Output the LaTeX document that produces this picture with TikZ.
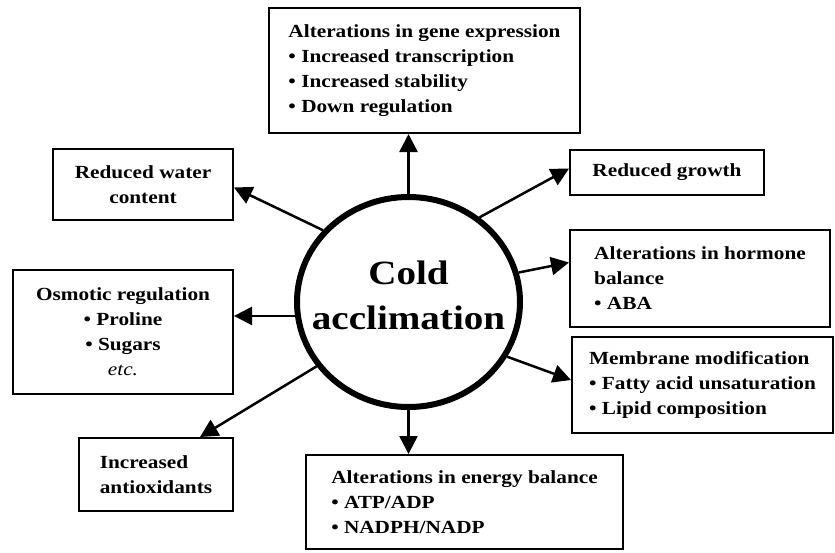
\documentclass[tikz,border=0pt]{standalone}
\usepackage{fontspec}
\setmainfont{Liberation Serif}[FakeStretch=1.15]
\usetikzlibrary{shapes.geometric,arrows.meta}

\begin{document}
\begin{tikzpicture}[x=1pt,y=-1pt,
    box/.style={draw, rectangle, line width=2pt, inner sep=0pt, align=left,
        font=\fontsize{18.5}{25}\selectfont\bfseries},
    arr/.style={line width=2.5pt, -{Triangle[length=18pt,width=18pt]}}]
    \useasboundingbox (0,0) rectangle (835,552);

    % Nodes
    \node [draw, ellipse, line width=6pt, minimum width=223pt, minimum height=210pt,
        inner xsep=-20pt, inner ysep=0pt, align=center, font=\fontsize{34}{45}\selectfont\bfseries]
        (cold) at (408.5,302) {Cold\\acclimation\strut};
    \node [box, minimum width=311pt, minimum height=125pt] (gene) at (424.5,70.5)
        {Alterations in gene expression\\\textbullet\ Increased transcription\\\textbullet\ Increased stability\\\textbullet\ Down regulation};
    \node [box, align=center, minimum width=180pt, minimum height=71pt] (water) at (143,184.5)
        {Reduced water\\content};
    \node [box, minimum width=194pt, minimum height=45pt] (growth) at (667,172.5)
        {Reduced growth};
    \node [box, minimum width=260pt, minimum height=97pt] (hormone) at (700,278.5)
        {Alterations in hormone\\balance\\\textbullet\ ABA};
    \node [box, align=center, minimum width=220pt, minimum height=124pt] (osmotic) at (123,332)
        {Osmotic regulation\\\textbullet\ Proline\\\textbullet\ Sugars\\\textmd{\textit{etc.}}};
    \node [box, minimum width=261pt, minimum height=96pt] (membrane) at (702.5,385)
        {Membrane modification\\\textbullet\ Fatty acid unsaturation\\\textbullet\ Lipid composition};
    \node [box, minimum width=154pt, minimum height=73pt] (antiox) at (156,474.5)
        {Increased\\antioxidants};
    \node [box, minimum width=317pt, minimum height=94pt] (energy) at (464.5,502)
        {Alterations in energy balance\\\textbullet\ ATP/ADP\\\textbullet\ NADPH/NADP};

    % Arrows
    \draw [arr] (cold.north) -- (cold.north |- gene.south);
    \draw [arr] (cold.south) -- (cold.south |- energy.north);
    \draw [arr] (cold.187) -- (cold.187 -| osmotic.east);
    \draw [arr] (cold.140) -- ([yshift=-3pt]water.east);
    \draw [arr] (cold.50) -- ([yshift=4pt]growth.west);
    \draw [arr] (cold.15) -- ([yshift=16pt]hormone.west);
    \draw [arr] (cold.-29) -- ([yshift=5pt]membrane.west);
    \draw [arr] (cold.215) -- ([xshift=44pt]antiox.north);
\end{tikzpicture}
\end{document}
